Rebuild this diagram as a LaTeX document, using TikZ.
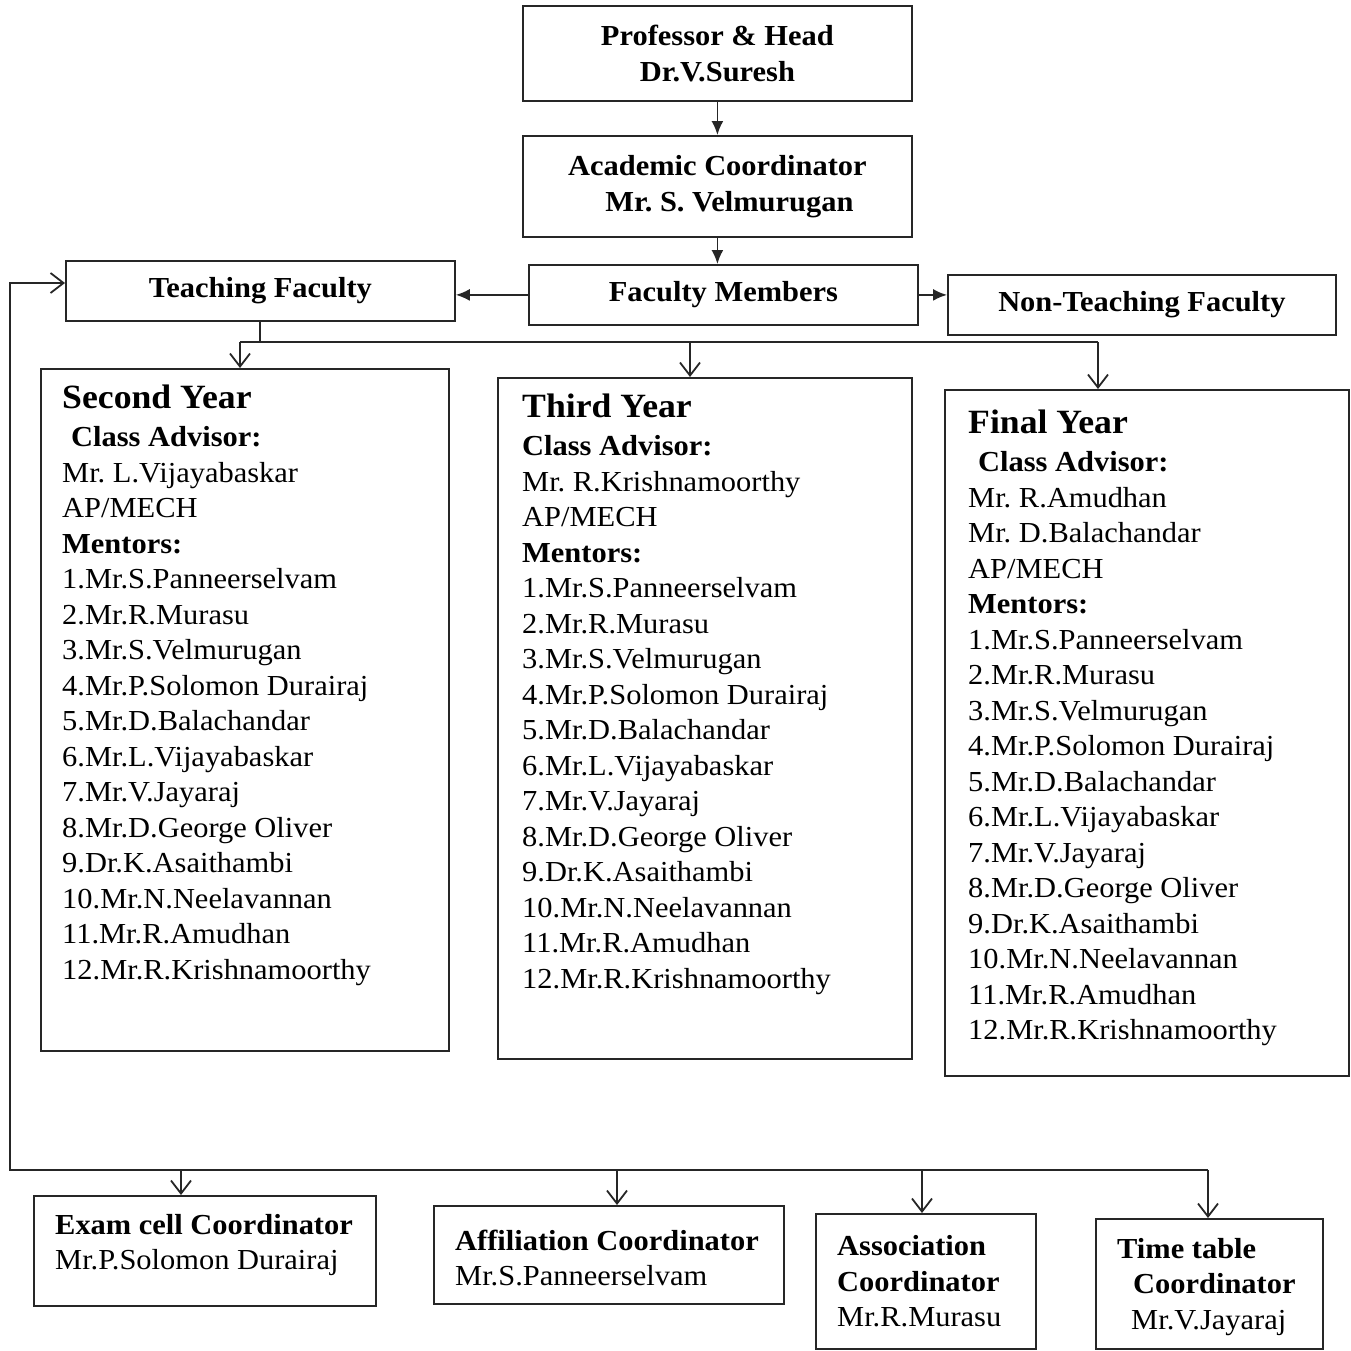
\documentclass[tikz,border=0pt]{standalone}
\usepackage{fontspec}
\setmainfont[FakeStretch=1.05]{Liberation Serif}
\usetikzlibrary{arrows.meta,calc}
\frenchspacing
\begin{document}
\begin{tikzpicture}[x=1pt,y=-1pt,
  box/.style={draw=black!85, line width=1.8pt, inner sep=0pt, anchor=north west},
  fs/.style={font=\fontsize{29}{35.5}\selectfont\frenchspacing},
  hd/.style={font=\fontsize{29}{35.5}\selectfont\bfseries\frenchspacing},
  txt/.style={fs, align=left, inner sep=0pt, anchor=north west},
  ln/.style={draw=black!85, line width=1.8pt},
  fa/.style={ln, -{Latex[length=14pt,width=12pt]}},
  oa/.style={ln, -{Straight Barb[length=13pt,width=20pt]}},
  ]
\useasboundingbox (0,0) rectangle (1351,1350);
\fill[white] (0,0) rectangle (1351,1350);

% top chain
\node[box, hd, align=center, minimum width=389pt, minimum height=95pt] (prof) at (522,5) {Professor \& Head\\Dr.V.Suresh};
\node[box, hd, align=center, minimum width=389pt, minimum height=101pt] (acad) at (522,135) {Academic Coordinator\\\hspace*{24pt}Mr. S. Velmurugan};
\node[box, hd, minimum width=389pt, minimum height=60pt] (tf) at (65,260) {Teaching Faculty};
\node[box, hd, minimum width=389pt, minimum height=60pt] (fm) at (528,264) {Faculty Members};
\node[box, hd, minimum width=388pt, minimum height=60pt] (nt) at (947,274) {Non-Teaching Faculty};

\draw[fa] (prof.south) -- (acad.north);
\draw[fa] (acad.south) -- (acad.south |- fm.north);
\draw[fa] (fm.west) -- (fm.west -| tf.east);
\draw[fa] (fm.east) -- (fm.east -| nt.west);

% year boxes
\node[box, minimum width=408pt, minimum height=682pt] (sy) at (40,368) {};
\node[box, minimum width=414pt, minimum height=681pt] (ty) at (497,377) {};
\node[box, minimum width=404pt, minimum height=686pt] (fy) at (944,389) {};

\coordinate (j) at (260,342);
\coordinate (h1) at (240,342);
\coordinate (h2) at (690,342);
\coordinate (h3) at (1098,342);
\draw[ln] (tf.south -| j) -- (j);
\draw[ln] (h1) -- (h3);
\draw[oa] (h1) -- (h1 |- sy.north);
\draw[oa] (h2) -- (h2 |- ty.north);
\draw[oa] (h3) -- (h3 |- fy.north);

\node[txt] (syt) at (62,385) {{\fontsize{34}{38}\selectfont\bfseries Second Year}\\[2.5pt]
\hspace*{9pt}\textbf{Class Advisor:}\\
Mr. L.Vijayabaskar\\
AP/MECH\\
\textbf{Mentors:}\\
1.Mr.S.Panneerselvam\\
2.Mr.R.Murasu\\
3.Mr.S.Velmurugan\\
4.Mr.P.Solomon Durairaj\\
5.Mr.D.Balachandar\\
6.Mr.L.Vijayabaskar\\
7.Mr.V.Jayaraj\\
8.Mr.D.George Oliver\\
9.Dr.K.Asaithambi\\
10.Mr.N.Neelavannan\\
11.Mr.R.Amudhan\\
12.Mr.R.Krishnamoorthy};

\node[txt] (tyt) at (522,394) {{\fontsize{34}{38}\selectfont\bfseries Third Year}\\[2.5pt]
\textbf{Class Advisor:}\\
Mr. R.Krishnamoorthy\\
AP/MECH\\
\textbf{Mentors:}\\
1.Mr.S.Panneerselvam\\
2.Mr.R.Murasu\\
3.Mr.S.Velmurugan\\
4.Mr.P.Solomon Durairaj\\
5.Mr.D.Balachandar\\
6.Mr.L.Vijayabaskar\\
7.Mr.V.Jayaraj\\
8.Mr.D.George Oliver\\
9.Dr.K.Asaithambi\\
10.Mr.N.Neelavannan\\
11.Mr.R.Amudhan\\
12.Mr.R.Krishnamoorthy};

\node[txt] (fyt) at (968,410) {{\fontsize{34}{38}\selectfont\bfseries Final Year}\\[2.5pt]
\hspace*{10pt}\textbf{Class Advisor:}\\
Mr. R.Amudhan\\
Mr. D.Balachandar\\
AP/MECH\\
\textbf{Mentors:}\\
1.Mr.S.Panneerselvam\\
2.Mr.R.Murasu\\
3.Mr.S.Velmurugan\\
4.Mr.P.Solomon Durairaj\\
5.Mr.D.Balachandar\\
6.Mr.L.Vijayabaskar\\
7.Mr.V.Jayaraj\\
8.Mr.D.George Oliver\\
9.Dr.K.Asaithambi\\
10.Mr.N.Neelavannan\\
11.Mr.R.Amudhan\\
12.Mr.R.Krishnamoorthy};

% bottom coordinators
\node[box, minimum width=342pt, minimum height=110pt] (ex) at (33,1195) {};
\node[box, minimum width=350pt, minimum height=98pt] (af) at (433,1205) {};
\node[box, minimum width=220pt, minimum height=135pt] (as) at (815,1213) {};
\node[box, minimum width=227pt, minimum height=130pt] (tt) at (1095,1218) {};

\node[fs, align=left, inner sep=0pt, anchor=west] (ext) at ($(ex.west)+(22,-6)$) {\textbf{Exam cell Coordinator}\\Mr.P.Solomon Durairaj};
\node[fs, align=left, inner sep=0pt, anchor=west] (aft) at ($(af.west)+(22,3)$) {\textbf{Affiliation Coordinator}\\Mr.S.Panneerselvam};
\node[fs, align=left, inner sep=0pt, anchor=west] (ast) at ($(as.west)+(22,0)$) {\textbf{Association}\\\textbf{Coordinator}\\Mr.R.Murasu};
\node[fs, align=left, inner sep=0pt, anchor=west] (ttt) at ($(tt.west)+(22,3)$) {\textbf{Time table}\\\hspace*{16pt}\textbf{Coordinator}\\\hspace*{14pt}Mr.V.Jayaraj};

% loop from left
\coordinate (bl) at (10,1170);
\coordinate (tl) at (10,283);
\coordinate (b1) at (181,1170);
\coordinate (b2) at (617,1170);
\coordinate (b3) at (922,1170);
\coordinate (b4) at (1208,1170);
\draw[oa] (b4) -- (bl) -- (tl) -- (tf.west |- tl);
\draw[oa] (b1) -- (b1 |- ex.north);
\draw[oa] (b2) -- (b2 |- af.north);
\draw[oa] (b3) -- (b3 |- as.north);
\draw[oa] (b4) -- (b4 |- tt.north);
\end{tikzpicture}
\end{document}
